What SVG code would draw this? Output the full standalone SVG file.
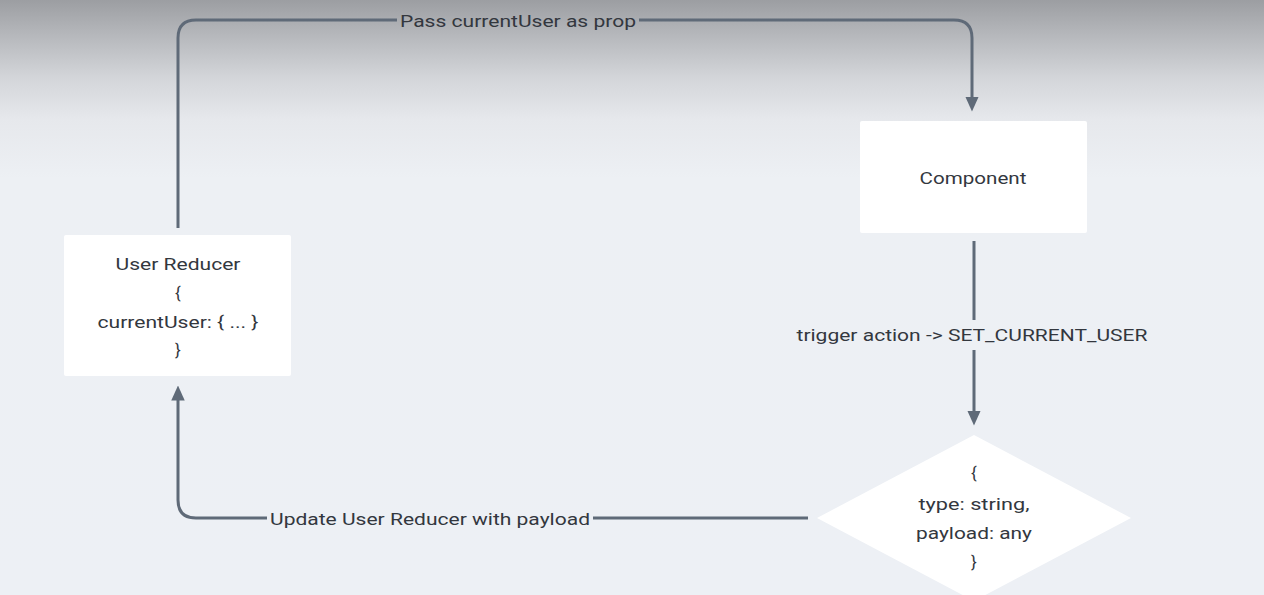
<svg xmlns="http://www.w3.org/2000/svg" width="1264" height="595" viewBox="0 0 1264 595">
<defs>
<linearGradient id="bg" x1="0" y1="0" x2="0" y2="1">
<stop offset="0" stop-color="#9c9ea2"/>
<stop offset="0.06" stop-color="#b6b8bc"/>
<stop offset="0.13" stop-color="#d3d5d9"/>
<stop offset="0.2" stop-color="#e6e8ec"/>
<stop offset="0.3" stop-color="#edf0f4"/>
<stop offset="1" stop-color="#edf0f5"/>
</linearGradient>
<marker id="arr" viewBox="0 0 10 10" refX="5" refY="5" markerWidth="5" markerHeight="5" orient="auto-start-reverse" markerUnits="strokeWidth">
<path d="M0,0.5 L10,5 L0,9.5 Z" fill="#5f6a78"/>
</marker>
<style>
.ln{fill:none;stroke:#5f6a78;stroke-width:3}
.t{font-family:Roboto,"Liberation Sans",sans-serif;font-size:17px;font-weight:400;fill:#33373e;text-anchor:middle;dominant-baseline:central}
.box{fill:#ffffff}
</style>
</defs>
<rect width="1264" height="595" fill="url(#bg)"/>
<g id="connectors">
<path class="ln" d="M178,228 V38 Q178,20 196,20 H397 M639,20 H954 Q972,20 972,38 V104" marker-end="url(#arr)"/>
<path class="ln" d="M974,241 V320 M974,350 V418" marker-end="url(#arr)"/>
<path class="ln" d="M808,518 H593 M267,518 H196 Q178,518 178,500 V393" marker-end="url(#arr)"/>
<text class="t" x="518" y="21" textLength="236" lengthAdjust="spacingAndGlyphs">Pass currentUser as prop</text>
<text class="t" x="972" y="335" textLength="351" lengthAdjust="spacingAndGlyphs">trigger action -&gt; SET_CURRENT_USER</text>
<text class="t" x="430" y="519" textLength="320" lengthAdjust="spacingAndGlyphs">Update User Reducer with payload</text>
</g>
<g id="component">
<rect class="box" x="860" y="121" width="227" height="112" rx="2"/>
<text class="t" x="973" y="178" textLength="107" lengthAdjust="spacingAndGlyphs">Component</text>
</g>
<g id="user-reducer">
<rect class="box" x="64" y="235" width="227" height="141" rx="2"/>
<text class="t" x="178" y="264" textLength="125" lengthAdjust="spacingAndGlyphs">User Reducer</text>
<text class="t" x="178" y="293">{</text>
<text class="t" x="178" y="322" textLength="161" lengthAdjust="spacingAndGlyphs">currentUser: { ... }</text>
<text class="t" x="178" y="350">}</text>
</g>
<g id="action">
<polygon class="box" points="974,435 1131,518 974,601 817,518"/>
<text class="t" x="974" y="473">{</text>
<text class="t" x="974" y="504" textLength="111" lengthAdjust="spacingAndGlyphs">type: string,</text>
<text class="t" x="974" y="533" textLength="116" lengthAdjust="spacingAndGlyphs">payload: any</text>
<text class="t" x="974" y="562">}</text>
</g>
</svg>
